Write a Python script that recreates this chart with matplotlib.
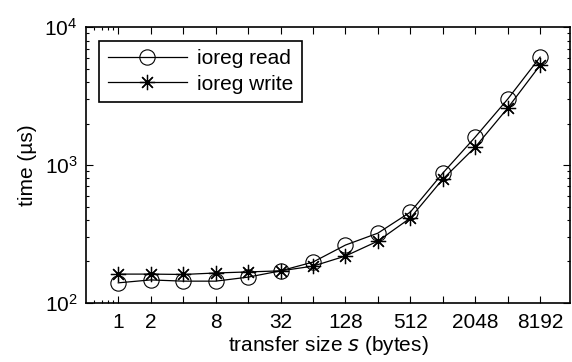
import matplotlib
matplotlib.use("Agg")
import matplotlib.pyplot as plt
from matplotlib.ticker import FixedLocator, NullFormatter

plt.rcParams['font.family'] = ['Liberation Sans', 'DejaVu Sans']
plt.rcParams['mathtext.default'] = 'regular'

sizes = [1, 2, 4, 8, 16, 32, 64, 128, 256, 512, 1024, 2048, 4096, 8192]
read_us = [140, 147, 144, 144, 154, 171, 198, 263, 321, 456, 874, 1596, 3007, 6065]
write_us = [162, 162, 161, 165, 168, 171, 185, 219, 281, 413, 790, 1350, 2590, 5300]
xtick_labels = [1, 2, 8, 32, 128, 512, 2048, 8192]

fs = 15

fig = plt.figure(figsize=(5.72, 3.62), dpi=100)
ax = fig.add_axes([0.150, 0.163, 0.8465, 0.762])

ax.plot(sizes, read_us, color='k', lw=0.9, marker='o', ms=11, mfc='none',
        mec='k', mew=0.8, label='ioreg read')
ax.plot(sizes, write_us, color='k', lw=0.9, marker=(8, 2, 0), ms=11,
        mec='k', mew=0.9, label='ioreg write')

ax.set_xscale('log')
ax.set_yscale('log')
ax.set_xlim(0.5, 15500)
ax.set_ylim(100, 10000)

ax.xaxis.set_major_locator(FixedLocator(sizes))
ax.set_xticklabels([str(s) if s in xtick_labels else '' for s in sizes])
ax.xaxis.set_minor_locator(FixedLocator([0.6, 0.7, 0.8, 0.9]))
ax.xaxis.set_minor_formatter(NullFormatter())

ax.tick_params(which='both', direction='in', top=True, right=True,
               labelsize=fs, width=0.8)
ax.tick_params(which='major', length=5)
ax.tick_params(which='minor', length=2.5)
ax.tick_params(axis='x', pad=7)
ax.tick_params(axis='y', pad=6)
for sp in ax.spines.values():
    sp.set_linewidth(1.2)

ax.set_xlabel('transfer size $\\it{s}$ (bytes)', fontsize=fs, labelpad=2)
ax.set_ylabel('time (µs)', fontsize=fs, labelpad=5)

leg = ax.legend(loc='upper left', fontsize=fs, handlelength=3.8,
                fancybox=False, edgecolor='k', framealpha=1,
                bbox_to_anchor=(0.028, 0.95), borderaxespad=0,
                borderpad=0.4, labelspacing=0.3, handletextpad=0.5)
leg.get_frame().set_linewidth(1.2)

fig.savefig('out.png', dpi=100)
